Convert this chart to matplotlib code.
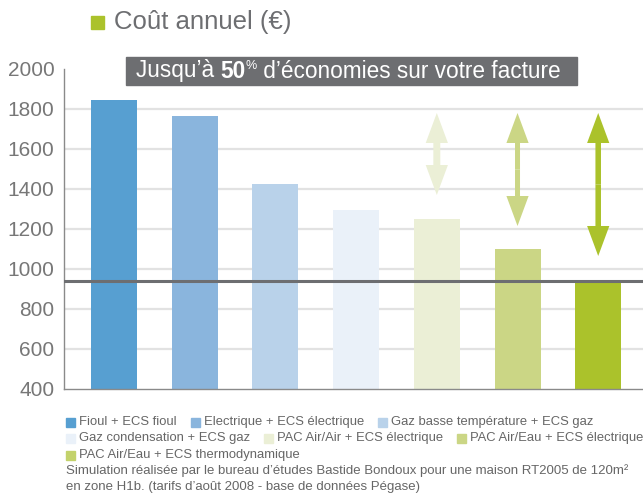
import matplotlib
matplotlib.use('Agg')
import matplotlib.pyplot as plt
from matplotlib.patches import Rectangle

plt.rcParams['font.family'] = ['Liberation Sans', 'DejaVu Sans']

# données (coût annuel en euros)
systemes = ['Fioul + ECS fioul', 'Electrique + ECS électrique', 'Gaz basse température + ECS gaz',
            'Gaz condensation + ECS gaz', 'PAC Air/Air + ECS électrique', 'PAC Air/Eau + ECS électrique',
            'PAC Air/Eau + ECS thermodynamique']
couts = [1845, 1765, 1425, 1295, 1250, 1100, 940]
couleurs = ['#579fd1', '#8ab5dd', '#b9d2ea', '#eaf1f9', '#ebefd6', '#cbd685', '#abc22b']
legende_couleurs = ['#579fd1', '#8ab5dd', '#b9d2ea', '#eaf1f9', '#ebefd6', '#cbd685', '#c3d26b']
ref_cout = 940
fleche_haut = [1780, 1780, 1780]
fleche_bas = [1370, 1215, 1065]
fleche_idx = [4, 5, 6]
fleche_tail = [5.0, 3.6, 4.0]
yticks = [400, 600, 800, 1000, 1200, 1400, 1600, 1800, 2000]

W, H = 643, 493
fig = plt.figure(figsize=(W / 100, H / 100), dpi=100)
ax = fig.add_axes([64 / W, 1 - 389 / H, 1 - 64 / W, (389 - 69) / H])

x = list(range(len(couts)))
ax.bar(x, couts, width=0.57, color=couleurs, zorder=2)
ax.set_xlim(-0.62, 6.555)
ax.set_ylim(400, 2000)
ax.set_yticks(yticks)
ax.set_xticks([])
ax.tick_params(axis='y', length=0, pad=7, labelsize=15, labelcolor='#777777')

# grille horizontale
for v in yticks[1:-1]:
    ax.axhline(v, color='#e2e2e2', lw=1.6, zorder=1)
ax.axhline(ref_cout, color='#6d6e71', lw=2.2, zorder=3)

for s in ['top', 'right']:
    ax.spines[s].set_visible(False)
for s in ['left', 'bottom']:
    ax.spines[s].set_color('#8a8a8a')
    ax.spines[s].set_linewidth(1.0)

# flèches d'économie : deux demi-flèches depuis le milieu
for i, hi, lo, tw in zip(fleche_idx, fleche_haut, fleche_bas, fleche_tail):
    mid = (hi + lo) / 2
    for bout in (hi, lo):
        ax.annotate('', xy=(i, bout), xytext=(i, mid),
                    arrowprops=dict(arrowstyle='simple,head_length=21.6,head_width=16,tail_width=%s' % tw,
                                    mutation_scale=1, lw=0, color=couleurs[i],
                                    shrinkA=0, shrinkB=0), zorder=4)

renderer = fig.canvas.get_renderer()


def txt(px, py, s, **kw):
    t = fig.text(px / W, 1 - py / H, s, va='center', ha='left', **kw)
    return t, t.get_window_extent(renderer).width


# titre
fig.patches.append(Rectangle((91 / W, 1 - 29 / H), 13 / W, 13 / H, transform=fig.transFigure,
                             color='#abc22b', figure=fig))
txt(114, 22, 'Coût annuel (€)', fontsize=18.5, color='#6d6e71')

# bandeau gris
fig.patches.append(Rectangle((126 / W, 1 - 85 / H), (577 - 126) / W, 28 / H, transform=fig.transFigure,
                             color='#6d6e71', figure=fig))
px = 136
_, w = txt(px, 71, 'Jusqu’à ', fontsize=16.3, color='white')
px += w
_, w = txt(px, 71, '50', fontsize=16.3, color='white', fontweight='bold')
px += w
_, w = txt(px, 66, '%', fontsize=9, color='white')
px += w
txt(px, 71, ' d’économies sur votre facture', fontsize=16.3, color='white')

# légende
lignes = [[0, 1, 2], [3, 4, 5], [6]]
ly = [422, 438, 455]
for row, yy in zip(lignes, ly):
    px = 66
    for k in row:
        fig.patches.append(Rectangle((px / W, 1 - (yy + 4.5) / H), 9 / W, 9 / H,
                                     transform=fig.transFigure, color=legende_couleurs[k], figure=fig))
        _, w = txt(px + 13, yy, systemes[k], fontsize=9.4, color='#666666')
        px += 13 + w + 14

txt(66, 471, 'Simulation réalisée par le bureau d’études Bastide Bondoux pour une maison RT2005 de 120m²',
    fontsize=9.5, color='#666666')
txt(66, 487, 'en zone H1b. (tarifs d’août 2008 - base de données Pégase)', fontsize=9.5, color='#666666')

fig.savefig('out.png', dpi=100)
